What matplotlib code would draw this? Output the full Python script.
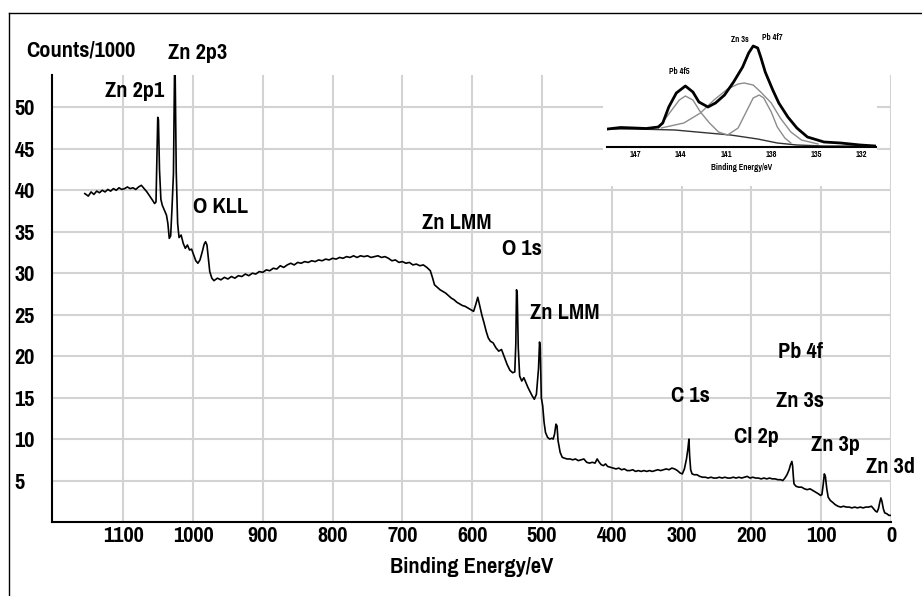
import matplotlib
matplotlib.use('Agg')
import matplotlib.pyplot as plt
from matplotlib.lines import Line2D
import numpy as np

plt.rcParams['font.family'] = ['Pragati Narrow', 'Roboto Condensed', 'Liberation Sans', 'DejaVu Sans']

# survey spectrum (binding energy eV, counts/1000)
energy = [1155, 1150, 1146, 1142, 1138, 1134, 1130, 1126, 1122, 1118, 1114, 1110, 1106, 1102,
          1098, 1094, 1090, 1086, 1082, 1078, 1074, 1070, 1066, 1062, 1058, 1055, 1053, 1052,
          1050.5, 1049.5, 1048, 1046, 1044, 1041, 1038, 1036, 1034, 1032, 1030, 1028, 1026.5,
          1025.5, 1024, 1022, 1020, 1017, 1014, 1011, 1008, 1005, 1002, 999, 996, 993, 990, 987,
          984, 982, 980, 978, 976, 973, 970, 965, 960, 955, 950, 945, 940, 935, 930, 925, 920,
          915, 910, 905, 900, 895, 890, 885, 880, 875, 870, 865, 860, 855, 850, 845, 840, 835,
          830, 825, 820, 815, 810, 805, 800, 795, 790, 785, 780, 775, 770, 765, 760, 755, 750,
          745, 740, 735, 730, 725, 720, 715, 710, 705, 700, 695, 690, 685, 680, 675, 670, 665,
          660, 657, 654, 650, 646, 642, 638, 634, 630, 626, 622, 618, 614, 610, 606, 602, 598,
          595, 592, 589, 586, 583, 580, 577, 574, 570, 566, 562, 558, 554, 550, 546, 542, 539,
          537.5, 536.5, 535.5, 534, 532, 529, 526, 523, 520, 517, 514, 511, 508, 505, 503.5,
          502.5, 501, 499, 497, 495, 492, 489, 486, 484, 482, 480, 478.5, 477, 474, 471, 468,
          464, 460, 456, 452, 448, 444, 440, 436, 432, 428, 424, 421, 418, 415, 412, 409, 406,
          402, 398, 394, 390, 386, 382, 378, 374, 370, 366, 362, 358, 354, 350, 346, 342, 338,
          334, 330, 326, 322, 318, 314, 310, 306, 302, 299, 296, 293, 291, 289.5, 288.5, 287,
          285, 282, 278, 274, 270, 266, 262, 258, 254, 250, 246, 242, 238, 234, 230, 226, 222,
          218, 214, 210, 206, 202, 198, 194, 190, 186, 182, 178, 174, 170, 166, 162, 158, 155,
          152, 149, 146, 144, 142, 141, 140, 139, 136, 132, 128, 124, 120, 116, 112, 108, 104,
          101, 99, 97, 95.5, 94, 92, 90, 87, 84, 80, 76, 72, 68, 64, 60, 56, 52, 48, 44, 40, 36,
          32, 28, 25, 22, 20, 18, 16, 14.5, 13, 11, 9, 6, 3, 1]
counts = [39.6, 39.3, 39.8, 39.5, 39.9, 39.7, 40.0, 39.8, 40.1, 39.9, 40.2, 40.0, 40.3, 40.1,
          40.2, 40.4, 40.2, 40.3, 40.1, 40.4, 40.6, 40.2, 39.8, 39.3, 38.8, 38.4, 38.6, 42.8,
          48.8, 48.5, 42.5, 38.9, 38.2, 37.6, 37.0, 36.0, 34.2, 34.5, 38.0, 42.0, 54.0,
          53.8, 42.2, 36.0, 34.3, 34.6, 33.6, 33.0, 33.4, 32.8, 32.9, 32.2, 31.5, 31.2, 31.6, 32.5,
          33.5, 33.8, 33.4, 31.8, 30.2, 29.4, 29.1, 29.4, 29.2, 29.5, 29.3, 29.6, 29.4, 29.7, 29.6,
          29.9, 29.7, 30.0, 29.9, 30.2, 30.1, 30.4, 30.3, 30.6, 30.5, 30.9, 30.7, 31.0, 31.2, 31.0,
          31.3, 31.2, 31.4, 31.3, 31.5, 31.4, 31.6, 31.5, 31.7, 31.6, 31.8, 31.7, 31.9, 31.8, 32.0,
          31.9, 32.1, 31.9, 32.1, 32.0, 32.1, 31.9, 32.0, 32.1, 31.9, 32.0, 31.8, 31.5, 31.6, 31.3,
          31.4, 31.2, 31.3, 31.0, 31.1, 30.9, 31.0, 30.7, 30.3, 29.5, 28.6, 28.3, 28.0, 27.8, 27.6,
          27.3, 27.0, 26.8, 26.5, 26.3, 26.1, 26.0, 25.8, 25.6, 25.4, 26.2, 27.1, 26.0, 24.9, 24.0,
          23.0, 22.2, 21.8, 21.6, 21.0, 20.6, 20.8, 19.9, 19.0, 18.3, 18.0, 18.1, 21.5, 28.0, 27.5,
          21.0, 17.6, 17.0, 17.4, 16.8, 16.2, 15.7, 15.2, 14.8, 15.4, 18.5, 21.7, 21.0, 15.0, 14.0,
          12.0, 10.8, 10.2, 10.0, 10.1, 10.0, 10.6, 11.8, 11.6, 9.8, 8.4, 7.8, 7.7, 7.6, 7.6, 7.5,
          7.6, 7.4, 7.5, 7.6, 7.2, 7.1, 7.2, 7.1, 7.6, 7.2, 6.9, 6.8, 7.0, 6.7, 6.6, 6.5, 6.4, 6.5,
          6.3, 6.4, 6.2, 6.2, 6.3, 6.1, 6.2, 6.1, 6.2, 6.1, 6.2, 6.1, 6.2, 6.3, 6.2, 6.3, 6.4, 6.3,
          6.5, 6.4, 6.2, 5.9, 5.8, 6.4, 7.6, 8.8, 10.0, 8.0, 6.3, 5.8, 5.7, 5.7, 5.5, 5.4, 5.4,
          5.3, 5.4, 5.3, 5.3, 5.4, 5.3, 5.4, 5.3, 5.3, 5.4, 5.3, 5.4, 5.3, 5.4, 5.5, 5.3, 5.4, 5.3,
          5.3, 5.2, 5.3, 5.2, 5.3, 5.2, 5.2, 5.1, 5.1, 5.0, 5.3, 5.7, 6.3, 6.9, 7.3, 6.8, 5.6, 4.6,
          4.3, 4.2, 4.2, 4.0, 3.9, 4.0, 3.8, 3.6, 3.4, 3.2, 3.3, 4.6, 5.8, 5.5, 4.0, 3.0, 2.6, 2.4,
          2.1, 1.9, 1.8, 1.9, 1.8, 1.8, 1.7, 1.8, 1.7, 1.8, 1.7, 1.8, 1.8, 1.9, 1.6, 1.3, 1.2, 1.6,
          2.4, 2.9, 2.5, 1.6, 1.1, 1.0, 0.8, 0.8]

peak_labels = ['Zn 2p1', 'Zn 2p3', 'O KLL', 'Zn LMM', 'O 1s', 'Zn LMM', 'Pb 4f', 'C 1s',
               'Zn 3s', 'Cl 2p', 'Zn 3p', 'Zn 3d']
label_x = [1083, 993, 960, 622, 529, 468, 130, 287, 130, 193, 79, 1.4]
label_y = [52.0, 56.6, 38.0, 36.0, 32.9, 25.2, 20.5, 15.2, 14.6, 10.2, 9.3, 6.6]

# inset: Pb 4f / Zn 3s region with fitted components
ins_e = [148.85, 148.0, 147.1, 146.3, 145.5, 145.2, 144.8, 144.3, 143.7, 143.2, 142.8, 142.2,
         141.7, 141.1, 140.5, 139.9, 139.5, 139.2, 138.9, 138.7, 138.4, 137.9, 137.5, 136.9,
         136.3, 135.6, 134.5, 133.4, 132.1, 131.1]
ins_env = [18, 19.5, 19, 18.5, 20, 24, 40, 54, 61, 55, 45, 40, 44, 52, 65, 80, 94, 101, 99, 90,
           75, 57, 44, 30, 19, 10, 5, 4, 2, 1]
bg_e = [148.85, 147.1, 144.4, 142.2, 140.7, 138.9, 137.6, 136.3, 134.5, 131.1]
bg_y = [18, 18, 17, 14, 12, 8, 4, 2, 1, 1]
pb5_e = [145.5, 144.6, 144.1, 143.7, 143.2, 142.7, 142.1, 141.5, 140.9]
pb5_y = [19, 37, 47, 51, 47, 35, 24, 15, 12]
zn3s_e = [145.3, 143.8, 142.7, 141.8, 140.9, 140.2, 139.8, 139.2, 138.7, 138.0, 137.4, 136.7,
          136.0, 134.9]
zn3s_y = [19, 24, 34, 47, 58, 63, 64, 62, 55, 44, 29, 15, 7, 3]
pb7_e = [140.9, 140.2, 139.6, 139.2, 138.8, 138.5, 138.0, 137.6, 137.1, 136.7]
pb7_y = [12, 19, 37, 49, 52, 49, 35, 20, 9, 4]
ins_ticks = [147, 144, 141, 138, 135, 132]
ins_labels = ['Pb 4f5', 'Zn 3s', 'Pb 4f7']
ins_lab_x = [144.1, 140.1, 137.9]
ins_lab_y = [76, 108, 109]

W, H = 922, 596
FS = 17.5
fig = plt.figure(figsize=(W / 100, H / 100), dpi=100)

def px_rect(x0, y0, x1, y1):
    return [x0 / W, 1 - y1 / H, (x1 - x0) / W, (y1 - y0) / H]

ax = fig.add_axes(px_rect(52, 75, 891, 522))
ax.plot(energy, counts, color='black', lw=1.2)
ax.set_xlim(1202, 0)
ax.set_ylim(0, 53.9)
ax.set_xticks(np.arange(0, 1101, 100))
ax.set_yticks(np.arange(5, 51, 5))
ax.grid(True, color='#d3d3d3', lw=1.5)
ax.set_axisbelow(True)
for s in ['top', 'right']:
    ax.spines[s].set_visible(False)
for s in ['left', 'bottom']:
    ax.spines[s].set_linewidth(1.5)
ax.tick_params(length=0, labelsize=FS)
ax.tick_params(axis='x', pad=3)
ax.tick_params(axis='y', pad=27)
for t in ax.get_yticklabels():
    t.set_ha('left')
    t.set_fontweight('bold')
for t in ax.get_xticklabels():
    t.set_fontweight('bold')
ax.set_xlabel('Binding Energy/eV', fontsize=FS, fontweight='bold', labelpad=8)
fig.text(26 / W, 1 - 50 / H, 'Counts/1000', fontsize=FS, fontweight='bold', ha='left', va='center')

for lab, x, y in zip(peak_labels, label_x, label_y):
    ax.text(x, y, lab, fontsize=FS, fontweight='bold', ha='center', va='center', clip_on=False)

# white box behind inset
bg = fig.add_axes(px_rect(603, 15, 877, 186))
bg.set_facecolor('white')
bg.set_xticks([])
bg.set_yticks([])
for s in bg.spines.values():
    s.set_visible(False)

ins = fig.add_axes(px_rect(607, 20, 876, 147))
ins.patch.set_alpha(0)
ins.plot(bg_e, bg_y, color='#333333', lw=1.0)
ins.plot(pb5_e, pb5_y, color='#8c8c8c', lw=1.0)
ins.plot(zn3s_e, zn3s_y, color='#8c8c8c', lw=1.0)
ins.plot(pb7_e, pb7_y, color='#8c8c8c', lw=1.0)
ins.plot(ins_e, ins_env, color='black', lw=2.0)
ins.set_xlim(148.9, 131.05)
ins.set_ylim(0, 127)
ins.set_xticks(ins_ticks)
ins.set_yticks([])
for s in ['top', 'right', 'left']:
    ins.spines[s].set_visible(False)
ins.spines['bottom'].set_linewidth(1.5)
ins.tick_params(length=0, labelsize=6.5, pad=2)
for t in ins.get_xticklabels():
    t.set_fontweight('bold')
ins.set_xlabel('Binding Energy/eV', fontsize=6.5, fontweight='bold', labelpad=3)
for lab, x, y in zip(ins_labels, ins_lab_x, ins_lab_y):
    ins.text(x, y, lab, fontsize=6.5, fontweight='bold', ha='center', va='center')

# outer frame (top and left edges)
fig.add_artist(Line2D([9 / W, 1], [1 - 13 / H] * 2, transform=fig.transFigure, color='black', lw=1))
fig.add_artist(Line2D([9 / W, 9 / W], [0, 1 - 13 / H], transform=fig.transFigure, color='black', lw=1))

fig.savefig('out.png', dpi=100)
